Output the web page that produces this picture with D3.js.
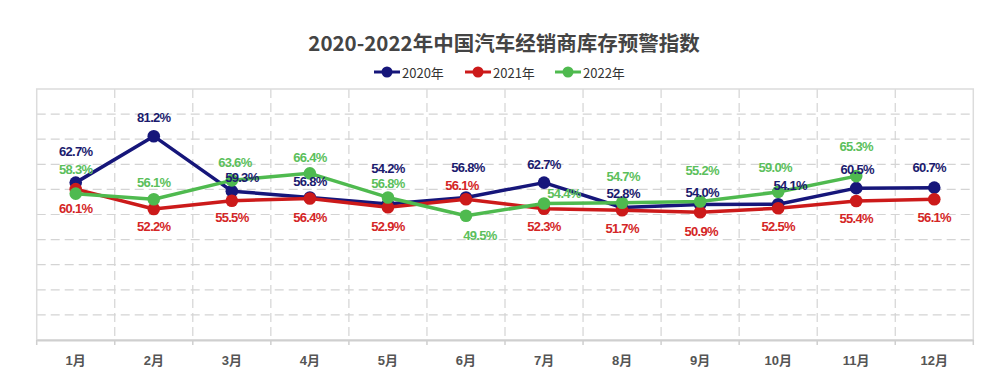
<!DOCTYPE html>
<html><head><meta charset="utf-8">
<script src="https://cdn.jsdelivr.net/npm/d3@7/dist/d3.min.js"></script>
<style>
html,body{margin:0;padding:0;background:#fff;}
svg{display:block;}
</style></head>
<body>
<svg id="chart" width="1000" height="392"></svg>
<script>
const months = ["1月","2月","3月","4月","5月","6月","7月","8月","9月","10月","11月","12月"];
const seriesNames = ["2020年","2021年","2022年"];
const values2020 = [62.7,81.2,59.3,56.8,54.2,56.8,62.7,52.8,54.0,54.1,60.5,60.7];
const values2021 = [60.1,52.2,55.5,56.4,52.9,56.1,52.3,51.7,50.9,52.5,55.4,56.1];
const values2022 = [58.3,56.1,63.6,66.4,56.8,49.5,54.4,54.7,55.2,59.0,65.3];
const yTicks = [0,10,20,30,40,50,60,70,80,90,100];
const titleText = "2020-2022年中国汽车经销商库存预警指数";

// layout: label offsets (px) relative to each point
const labelDy2020 = [-31,-19,-14,-16,-35,-30,-18,-14,-12,-19,-19,-20];
const labelDx2020 = [0,0,10,0,0,2,0,1,2,12,1,-5];
const labelDy2021 = [19,18,17,19,19,-14,18,18,19,18,18,18];
const labelDx2021 = [0,0,0,0,0,-4,0,0,1,0,0,0];
const labelDy2022 = [-24,-17,-18,-16,-14,20,-10,-26,-31,-24,-30];
const labelDx2022 = [0,0,3,0,0,14,20,1,2,-3,0];

const colors = ["#16167a","#cc1a1a","#4fba4f"];
const labelColors = ["#1b1b6e","#d42626","#5cbf5c"];

const svg = d3.select("#chart");
const m = {left:36.7, right:973.3, top:89, bottom:340};

const x = d3.scaleBand().domain(months).range([m.left, m.right]).padding(0);
const y = d3.scaleLinear().domain([0,100]).range([m.bottom, m.top]);

const gridColor = "#d4d4d4";
svg.append("g").selectAll("line").data(yTicks.filter(t=>t>0 && t<100)).join("line")
  .attr("x1", m.left).attr("x2", m.right)
  .attr("y1", d=>y(d)).attr("y2", d=>y(d))
  .attr("stroke", gridColor).attr("stroke-width",1.2).attr("stroke-dasharray","9,5");
svg.append("g").selectAll("line").data(months.slice(1)).join("line")
  .attr("x1", d=>x(d)).attr("x2", d=>x(d))
  .attr("y1", m.top).attr("y2", m.bottom)
  .attr("stroke", gridColor).attr("stroke-width",1.2).attr("stroke-dasharray","9,5");
svg.append("rect").attr("x",m.left).attr("y",m.top).attr("width",m.right-m.left).attr("height",m.bottom-m.top)
  .attr("fill","none").attr("stroke","#dcdcdc").attr("stroke-width",1.5);

const xAxis = d3.axisBottom(x).tickSize(0).tickPadding(16);
const gx = svg.append("g").attr("transform",`translate(0,${m.bottom})`).call(xAxis);
gx.select(".domain").attr("stroke","#cfcfcf").attr("stroke-width",2);
gx.selectAll("text").attr("fill","#555").attr("font-size","13px").attr("font-weight","bold")
  .attr("font-family","'Liberation Sans', Arial, 'Noto Sans CJK SC', sans-serif");
svg.append("g").selectAll("line").data(months.concat(["end"])).join("line")
  .attr("x1", (d,i)=> i<12 ? x(d) : m.right).attr("x2",(d,i)=> i<12 ? x(d) : m.right)
  .attr("y1", m.bottom).attr("y2", m.bottom+5)
  .attr("stroke","#cfcfcf").attr("stroke-width",1.5);

const series = [
  {name:seriesNames[0], vals:values2020, dy:labelDy2020, dx:labelDx2020},
  {name:seriesNames[1], vals:values2021, dy:labelDy2021, dx:labelDx2021},
  {name:seriesNames[2], vals:values2022, dy:labelDy2022, dx:labelDx2022}
];
const cx = (i)=> x(months[i]) + x.bandwidth()/2;
const line = d3.line().x((d,i)=>cx(i)).y(d=>y(d));

series.forEach((s,k)=>{
  const g = svg.append("g");
  g.append("path").attr("d", line(s.vals)).attr("fill","none")
    .attr("stroke", colors[k]).attr("stroke-width",3.5).attr("stroke-linejoin","round");
  g.selectAll("circle").data(s.vals).join("circle")
    .attr("cx",(d,i)=>cx(i)).attr("cy",d=>y(d)).attr("r",6.3).attr("fill",colors[k]);
});
series.forEach((s,k)=>{
  svg.append("g").selectAll("text").data(s.vals).join("text")
    .attr("x",(d,i)=>cx(i)+s.dx[i]).attr("y",(d,i)=>y(d)+s.dy[i])
    .attr("text-anchor","middle").attr("dominant-baseline","central")
    .attr("font-family","'Liberation Sans', Arial, sans-serif").attr("font-weight","bold")
    .attr("font-size","13px").attr("letter-spacing","-0.7px")
    .attr("fill",labelColors[k])
    .text(d=>d.toFixed(1)+"%");
});

svg.append("text").attr("x",504).attr("y",42).attr("text-anchor","middle").attr("dominant-baseline","central")
  .attr("font-family","'Noto Sans CJK SC', sans-serif").attr("font-weight","bold").attr("font-size","20.5px")
  .attr("fill","#444").text(titleText);

const legendX = [374, 465, 555];
seriesNames.forEach((n,k)=>{
  const g = svg.append("g").attr("transform",`translate(${legendX[k]},72)`);
  g.append("line").attr("x1",0).attr("x2",26).attr("y1",0).attr("y2",0).attr("stroke",colors[k]).attr("stroke-width",3);
  g.append("circle").attr("cx",13).attr("cy",0).attr("r",5.5).attr("fill",colors[k]);
  g.append("text").attr("x",28).attr("y",0).attr("dominant-baseline","central")
    .attr("font-family","'Noto Sans CJK SC', sans-serif").attr("font-size","13px").attr("fill","#333").text(n);
});
</script>
</body></html>
